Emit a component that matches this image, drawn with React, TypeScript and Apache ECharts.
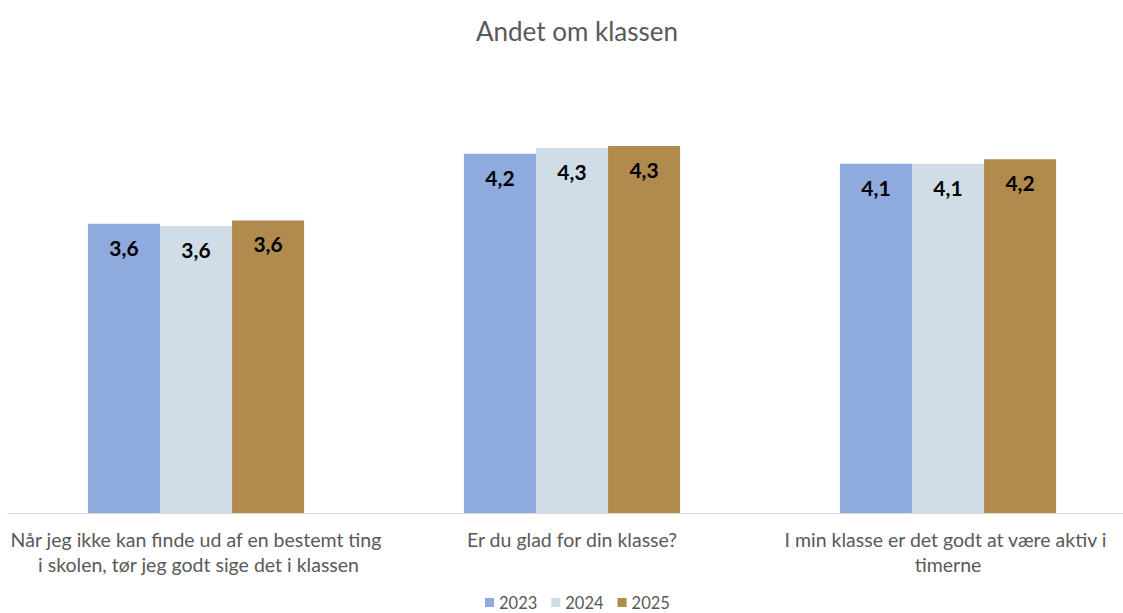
import React, { useEffect, useRef } from "react";
import * as echarts from "echarts";

const categories = [
  "Når jeg ikke kan finde ud af en bestemt ting i skolen, tør jeg godt sige det i klassen",
  "Er du glad for din klasse?",
  "I min klasse er det godt at være aktiv i timerne",
];
const seriesNames = ["2023", "2024", "2025"];
const values2023 = [3.6, 4.23, 4.14];
const values2024 = [3.58, 4.28, 4.14];
const values2025 = [3.63, 4.3, 4.18];
const colors = ["#8faadc", "#d0dce6", "#b08b4d"];

const FONT = "Lato, 'Noto Sans', sans-serif";

export default function App() {
  const ref = useRef<HTMLDivElement>(null);
  useEffect(() => {
    if (!ref.current) return;
    const chart = echarts.init(ref.current, undefined, { renderer: "svg" });
    const data = [values2023, values2024, values2025];
    chart.setOption({
      animation: false,
      backgroundColor: "#ffffff",
      title: {
        text: "Andet om klassen",
        left: 471,
        top: 13,
        textStyle: { color: "#595959", fontSize: 26, fontWeight: "normal", fontFamily: FONT },
      },
      legend: {
        data: seriesNames,
        top: 589,
        left: 480,
        itemWidth: 9,
        itemHeight: 9,
        itemGap: 14,
        icon: "rect",
        textStyle: { color: "#595959", fontSize: 16.5, lineHeight: 14, fontFamily: FONT },
      },
      grid: {
        left: 8,
        width: 1128,
        top: 68,
        bottom: 100,
        containLabel: false,
        outerBoundsMode: "none",
      },
      xAxis: {
        type: "category",
        data: categories,
        axisLine: { show: true, lineStyle: { color: "#d9d9d9", width: 1 } },
        axisTick: { show: false },
        axisLabel: {
          color: "#595959",
          fontSize: 19.5,
          fontFamily: FONT,
          lineHeight: 25,
          margin: 14,
          width: 388,
          overflow: "break",
          interval: 0,
        },
      },
      yAxis: {
        type: "value",
        min: 1,
        max: 5,
        show: false,
        splitLine: { show: false },
      },
      series: seriesNames.map((name, i) => ({
        name,
        type: "bar",
        data: data[i],
        barGap: "0%",
        barCategoryGap: "42.5%",
        itemStyle: { color: colors[i] },
        label: {
          show: true,
          position: "insideTop",
          distance: 13,
          color: "#000000",
          fontSize: 21,
          fontWeight: "bold",
          fontFamily: FONT,
          formatter: (p: any) => Number(p.value).toFixed(1).replace(".", ","),
        },
      })),
    });
    return () => chart.dispose();
  }, []);
  return (
    <div
      ref={ref}
      style={{ position: "fixed", left: 0, top: 0, width: 1123, height: 613 }}
    />
  );
}
